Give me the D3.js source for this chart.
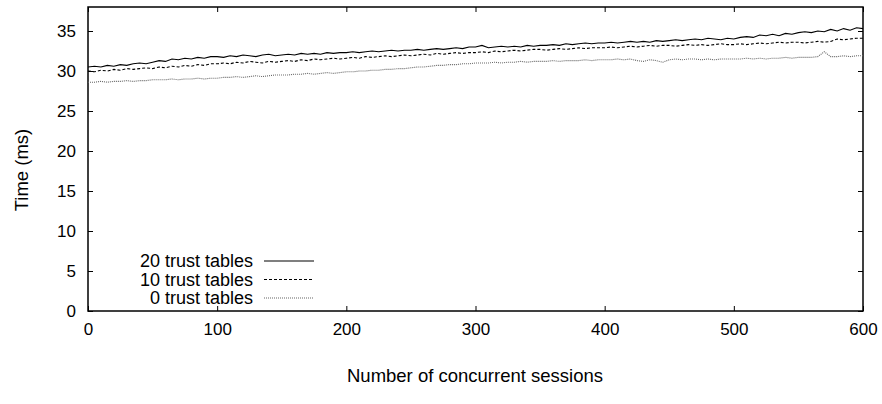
<!DOCTYPE html>
<html>
<head>
<meta charset="utf-8">
<script src="https://cdn.jsdelivr.net/npm/d3@7"></script>
<style>
  body { margin: 0; background: #fff; }
  text { font-family: "Liberation Sans", Arial, sans-serif; fill: #000; }
</style>
</head>
<body>
<div id="chart"></div>
<script>
let svgWidth = 882;
let svgHeight = 404;
let margin = { top: 7, right: 19, bottom: 93, left: 88 };
let chartWidth = svgWidth - margin.left - margin.right;
let chartHeight = svgHeight - margin.top - margin.bottom;

// sessions sampled every 5
let sessions = d3.range(0, 601, 5);
let xTicks = [0, 100, 200, 300, 400, 500, 600];
let yTicks = [0, 5, 10, 15, 20, 25, 30, 35];

let seriesNames = ["20 trust tables", "10 trust tables", "0 trust tables"];

let trust20 = [
  30.5, 30.6, 30.5, 30.7, 30.6, 30.8, 30.7, 30.9, 31.0, 30.9, 31.1,
  31.3, 31.2, 31.5, 31.4, 31.6, 31.5, 31.7, 31.6, 31.8, 31.8,
  31.7, 31.9, 31.8, 32.0, 31.9, 31.8, 32.0, 32.1, 31.9, 32.0,
  32.1, 32.0, 32.2, 32.1, 32.2, 32.1, 32.3, 32.2, 32.3, 32.3,
  32.4, 32.3, 32.4, 32.5, 32.4, 32.5, 32.6, 32.5, 32.6, 32.6,
  32.7, 32.6, 32.7, 32.8, 32.7, 32.8, 32.9, 32.8, 33.0, 33.0,
  33.2, 32.9, 33.0, 33.1, 33.0, 33.1, 33.0, 33.2, 33.1, 33.2,
  33.2, 33.3, 33.2, 33.4, 33.3, 33.4, 33.5, 33.4, 33.5, 33.5,
  33.6, 33.5, 33.6, 33.7, 33.6, 33.7, 33.6, 33.8, 33.7, 33.8,
  33.9, 33.8, 33.9, 34.0, 33.9, 34.1, 34.0, 33.9, 34.1, 34.0,
  34.2, 34.3, 34.2, 34.5, 34.4, 34.6, 34.4, 34.7, 34.6, 34.8,
  34.9, 34.8, 35.0, 34.9, 35.2, 35.0, 35.3, 35.1, 35.4, 35.3
];
let trust10 = [
  30.0, 29.9, 30.1, 30.0, 30.2, 30.1, 30.3, 30.2, 30.3, 30.4, 30.3,
  30.5, 30.4, 30.6, 30.5, 30.7, 30.6, 30.8, 30.7, 30.9, 30.9,
  31.0, 30.9, 31.1, 31.0, 31.2, 31.1, 31.0, 31.2, 31.1, 31.2,
  31.3, 31.2, 31.4, 31.3, 31.5, 31.4, 31.5, 31.6, 31.5, 31.6,
  31.7, 31.6, 31.8, 31.7, 31.8, 31.9, 31.8, 31.9, 32.0, 31.9,
  32.0, 32.1, 32.0, 32.2, 32.1, 32.2, 32.3, 32.2, 32.3, 32.3,
  32.4, 32.3, 32.5, 32.4, 32.5, 32.6, 32.5, 32.6, 32.7, 32.7,
  32.6, 32.7, 32.8, 32.7, 32.8, 32.9, 32.8, 32.9, 32.9, 32.9,
  33.0, 32.9, 33.0, 33.1, 33.0, 33.1, 33.2, 33.1, 33.2, 33.2,
  33.1, 33.2, 33.3, 33.2, 33.3, 33.2, 33.3, 33.4, 33.3, 33.3,
  33.4, 33.3, 33.4, 33.5, 33.4, 33.5, 33.6, 33.5, 33.6, 33.6,
  33.5, 33.6, 33.7, 33.6, 33.7, 34.0, 33.9, 34.0, 34.1, 34.1
];
let trust0 = [
  28.6, 28.6, 28.7, 28.6, 28.7, 28.7, 28.8, 28.7, 28.8, 28.8, 28.9,
  28.9, 28.9, 29.0, 28.9, 29.0, 29.0, 29.1, 29.0, 29.1, 29.1,
  29.2, 29.2, 29.3, 29.2, 29.3, 29.4, 29.3, 29.4, 29.5, 29.5,
  29.5, 29.6, 29.6, 29.7, 29.6, 29.7, 29.8, 29.7, 29.8, 29.9,
  29.9, 30.0, 30.0, 30.1, 30.1, 30.2, 30.2, 30.3, 30.3, 30.4,
  30.5, 30.5, 30.6, 30.7, 30.7, 30.8, 30.8, 30.9, 30.9, 31.0,
  31.0, 31.0, 31.1, 31.0, 31.1, 31.1, 31.2, 31.1, 31.2, 31.2,
  31.2, 31.3, 31.2, 31.3, 31.3, 31.3, 31.4, 31.3, 31.4, 31.4,
  31.4, 31.5, 31.4, 31.5, 31.3, 31.2, 31.4, 31.3, 31.1, 31.4,
  31.5, 31.4, 31.5, 31.5, 31.4, 31.5, 31.4, 31.5, 31.5, 31.5,
  31.5, 31.6, 31.5, 31.6, 31.5, 31.6, 31.6, 31.7, 31.6, 31.7,
  31.7, 31.7, 31.8, 32.4, 31.8, 31.8, 31.9, 31.8, 31.9, 31.9
];

let seriesValues = [trust20, trust10, trust0];
let dashes = [null, "3,2", "1,1"];
let strokes = ["#000", "#000", "#666"];

let svg = d3.select("#chart")
  .append("svg")
  .attr("width", svgWidth)
  .attr("height", svgHeight);

let chartGroup = svg.append("g")
  .attr("transform", `translate(${margin.left}, ${margin.top})`);

let xScale = d3.scaleLinear().domain([0, 600]).range([0, chartWidth]);
let yScale = d3.scaleLinear().domain([0, 38]).range([chartHeight, 0]);

// ticks point inward on all four sides (gnuplot style)
let bottomAxis = d3.axisBottom(xScale).tickValues(xTicks).tickSizeInner(-5).tickSizeOuter(0).tickPadding(12);
let topAxis = d3.axisTop(xScale).tickValues(xTicks).tickSizeInner(-5).tickSizeOuter(0).tickFormat("");
let leftAxis = d3.axisLeft(yScale).tickValues(yTicks).tickSizeInner(-5).tickSizeOuter(0).tickPadding(12);
let rightAxis = d3.axisRight(yScale).tickValues(yTicks).tickSizeInner(-5).tickSizeOuter(0).tickFormat("");

function styleAxis(g) {
  g.select(".domain").remove();
  g.selectAll("line").attr("stroke", "#000");
  g.selectAll("text").style("font-size", "17px").attr("fill", "#000");
}

chartGroup.append("g").attr("transform", `translate(0, ${chartHeight})`).call(bottomAxis).call(styleAxis);
chartGroup.append("g").call(topAxis).call(styleAxis);
chartGroup.append("g").call(leftAxis).call(styleAxis);
chartGroup.append("g").attr("transform", `translate(${chartWidth}, 0)`).call(rightAxis).call(styleAxis);

chartGroup.append("rect")
  .attr("width", chartWidth)
  .attr("height", chartHeight)
  .attr("fill", "none")
  .attr("stroke", "#000")
  .attr("stroke-width", 1.5);

let line = d3.line()
  .x((d, i) => xScale(sessions[i]))
  .y(d => yScale(d));

seriesValues.forEach(function(vals, k) {
  chartGroup.append("path")
    .datum(vals)
    .attr("fill", "none")
    .attr("stroke", strokes[k])
    .attr("stroke-width", 1.1)
    .attr("stroke-dasharray", dashes[k])
    .attr("d", line);
});

// legend
let legend = svg.append("g");
seriesNames.forEach(function(name, k) {
  let y = 261 + k * 18.5;
  legend.append("text")
    .attr("x", 253)
    .attr("y", y)
    .attr("dy", "0.35em")
    .attr("text-anchor", "end")
    .style("font-size", "18px")
    .text(name);
  legend.append("line")
    .attr("x1", 264).attr("x2", 314)
    .attr("y1", y).attr("y2", y)
    .attr("stroke", strokes[k])
    .attr("stroke-width", 1.1)
    .attr("stroke-dasharray", dashes[k]);
});

svg.append("text")
  .attr("x", 475)
  .attr("y", 382)
  .attr("text-anchor", "middle")
  .style("font-size", "18.5px")
  .text("Number of concurrent sessions");

svg.append("text")
  .attr("transform", "translate(28, 170) rotate(-90)")
  .attr("text-anchor", "middle")
  .style("font-size", "18.5px")
  .text("Time (ms)");
</script>
</body>
</html>
